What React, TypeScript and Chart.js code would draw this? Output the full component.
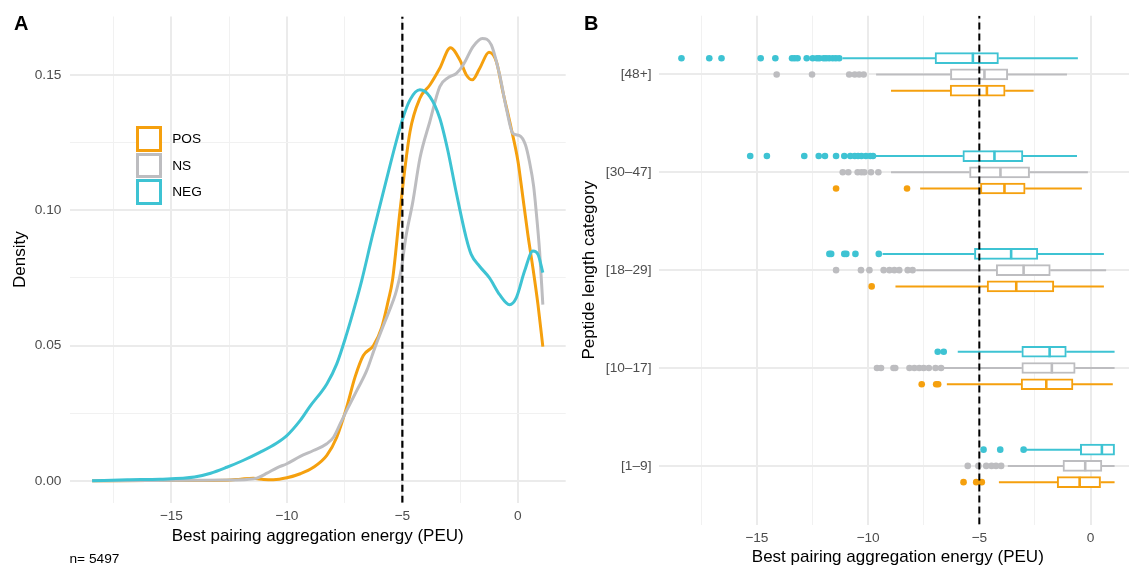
import React, { useEffect, useRef } from 'react';
import { Chart, registerables } from 'chart.js';

Chart.register(...registerables);

const FONT = '"Liberation Sans", Arial, Helvetica, sans-serif';
const ORANGE = '#F5A00E';
const GRAY = '#BDBDC0';
const CYAN = '#3EC3D3';
const GRID_MAJOR = '#EBEBEB';
const GRID_MINOR = '#F1F1F1';
const TICK_COLOR = '#4D4D4D';

// shared x axis
const X_MIN = -19.4;
const X_MAX = 2.07;
const X_TICKS = [-17.5, -15, -12.5, -10, -7.5, -5, -2.5, 0];
const X_MAJOR = [-15, -10, -5, 0];
const X_LABELS = ['−15', '−10', '−5', '0'];
const THRESHOLD = -5;

// panel A
const A_Y_MIN = -0.0081;
const A_Y_MAX = 0.1716;
const A_Y_TICKS = [0, 0.025, 0.05, 0.075, 0.1, 0.125, 0.15];
const A_Y_MAJOR = [0, 0.05, 0.1, 0.15];
const A_Y_LABELS = ['0.00', '0.05', '0.10', '0.15'];
const N_TOTAL = 5497;

const POS_DENSITY: [number, number][] = [
  [-18.43, 0], [-16, 0.0001], [-14, 0.0001], [-12.6, 0.0002], [-12.0, 0.0006],
  [-11.45, 0.0009], [-11.0, 0.0005], [-10.58, 0.0004], [-10.0, 0.0011], [-9.42, 0.0026],
  [-8.85, 0.005], [-8.27, 0.0094], [-7.84, 0.0161], [-7.41, 0.0272], [-7.05, 0.0383],
  [-6.69, 0.0463], [-6.25, 0.05], [-5.89, 0.0568], [-5.61, 0.0666], [-5.43, 0.074],
  [-5.1, 0.1], [-4.67, 0.129], [-4.24, 0.1414], [-3.81, 0.1463], [-3.38, 0.1525],
  [-2.92, 0.1601], [-2.51, 0.1555], [-2.23, 0.15], [-1.97, 0.1482], [-1.65, 0.1525],
  [-1.25, 0.1584], [-0.93, 0.1549], [-0.65, 0.1438], [-0.29, 0.1303], [0.0, 0.1183],
  [0.14, 0.1097], [0.43, 0.0911], [0.65, 0.0787], [0.87, 0.0651], [1.08, 0.0496],
];

const NS_DENSITY: [number, number][] = [
  [-18.43, 0], [-16, 0.0001], [-14, 0.0002], [-12.6, 0.0003], [-11.73, 0.0005],
  [-11.3, 0.001], [-10.86, 0.0028], [-10.43, 0.0048], [-10.0, 0.0063], [-9.42, 0.009],
  [-8.85, 0.0112], [-8.27, 0.0137], [-7.98, 0.0161], [-7.69, 0.0211], [-7.41, 0.026],
  [-6.97, 0.0334], [-6.54, 0.0408], [-6.18, 0.0494], [-5.82, 0.0574], [-5.4, 0.0665],
  [-5.25, 0.0705], [-5.05, 0.078], [-4.85, 0.09], [-4.55, 0.103], [-4.24, 0.1192],
  [-3.81, 0.1328], [-3.38, 0.1457], [-3.02, 0.149], [-2.66, 0.1506], [-2.37, 0.1537],
  [-1.94, 0.1605], [-1.54, 0.1635], [-1.15, 0.1611], [-0.79, 0.15], [-0.5, 0.1377],
  [-0.22, 0.1284], [0.07, 0.1276], [0.33, 0.1241], [0.5, 0.118], [0.68, 0.109],
  [0.79, 0.0998], [0.94, 0.0849], [1.08, 0.0651],
];

const NEG_DENSITY: [number, number][] = [
  [-18.43, 0], [-16.9, 0.0004], [-15.5, 0.0006], [-14.0, 0.0014], [-13.3, 0.0028],
  [-12.6, 0.005], [-11.9, 0.0075], [-11.15, 0.0106], [-10.45, 0.0139], [-10.0, 0.0167],
  [-9.42, 0.0223], [-9.0, 0.0275], [-8.27, 0.0358], [-7.84, 0.0432], [-7.41, 0.0543],
  [-7.05, 0.0648], [-6.76, 0.074], [-6.3, 0.0905], [-5.82, 0.1069], [-5.0, 0.1334],
  [-4.67, 0.1408], [-4.24, 0.1445], [-3.81, 0.142], [-3.38, 0.134], [-3.03, 0.122],
  [-2.69, 0.1075], [-2.24, 0.0899], [-2.02, 0.0837], [-1.66, 0.0793], [-1.23, 0.075],
  [-0.79, 0.0688], [-0.36, 0.0651], [-0.07, 0.0676], [0.29, 0.0775], [0.65, 0.0849],
  [0.87, 0.0837], [1.08, 0.0769],
];

// panel B (categories bottom to top)
const CATEGORIES = ['[1–9]', '[10–17]', '[18–29]', '[30–47]', '[48+]'];
const B_Y_MIN = -0.6;
const B_Y_MAX = 4.6;

// [lower whisker, Q1, median, Q3, upper whisker]
const NEG_BOX = [
  [-2.97, -0.46, 0.51, 1.08, 1.08],
  [-5.97, -3.09, -1.84, -1.09, 1.08],
  [-9.35, -5.22, -3.57, -2.37, 0.6],
  [-9.72, -5.74, -4.32, -3.04, -0.61],
  [-11.15, -6.99, -5.29, -4.14, -0.57],
];
const NEG_OUT = [
  [-4.81, -4.06, -3.01],
  [-6.87, -6.6],
  [-11.74, -11.66, -11.07, -10.98, -10.57, -9.52],
  [-15.3, -14.55, -12.87, -12.22, -11.94, -11.44, -11.07, -10.8, -10.6, -10.45, -10.3, -10.1, -9.9, -9.78],
  [-18.39, -17.14, -16.59, -14.83, -14.17, -13.42, -13.3, -13.17, -12.76, -12.49, -12.3, -12.19, -12.0, -11.89, -11.75, -11.59, -11.45, -11.3],
];

const NS_BOX = [
  [-3.72, -1.24, -0.24, 0.51, 1.08],
  [-6.64, -3.09, -1.74, -0.69, 1.08],
  [-7.84, -4.24, -3.01, -1.81, 0.7],
  [-8.97, -5.44, -4.05, -2.74, -0.12],
  [-9.64, -6.3, -4.77, -3.72, -1.06],
];
const NS_OUT = [
  [-5.52, -5.04, -4.69, -4.45, -4.25, -4.02],
  [-9.6, -9.42, -8.86, -8.78, -8.14, -7.92, -7.7, -7.5, -7.27, -6.97, -6.72],
  [-11.44, -10.32, -9.94, -9.3, -9.04, -8.82, -8.6, -8.22, -8.0],
  [-11.14, -10.89, -10.47, -10.3, -10.17, -9.87, -9.54],
  [-14.11, -12.52, -10.85, -10.6, -10.4, -10.2],
];

const POS_BOX = [
  [-4.12, -1.5, -0.49, 0.45, 1.08],
  [-6.46, -3.12, -1.99, -0.79, 1.0],
  [-8.77, -4.65, -3.34, -1.65, 0.6],
  [-7.66, -4.95, -3.87, -2.94, -0.39],
  [-8.97, -6.31, -4.66, -3.84, -2.56],
];
const POS_OUT = [
  [-5.71, -5.14, -4.89],
  [-7.59, -6.94, -6.85],
  [-9.84],
  [-11.44, -8.25],
  [],
];

const LEGEND = [
  { label: 'POS', color: ORANGE },
  { label: 'NS', color: GRAY },
  { label: 'NEG', color: CYAN },
];

// style constants
const DODGE = 0.166;
const BOX_HALF = 0.055;
const BOX_PX = 11;

const pts = (arr: [number, number][]) => arr.map(([x, y]) => ({ x, y }));

function gridFor(major: number[], majorW: number, minorW: number) {
  return {
    drawTicks: false,
    offset: false,
    color: (ctx: any) => (ctx.tick && major.includes(ctx.tick.value) ? GRID_MAJOR : GRID_MINOR),
    lineWidth: (ctx: any) => (ctx.tick && major.includes(ctx.tick.value) ? majorW : minorW),
  };
}

const tickFont = { family: FONT, size: 13.7 };
const titleFont = { family: FONT, size: 17 };

function xScale(height: number, tickPad: number, titlePadBottom: number) {
  return {
    type: 'linear' as const,
    min: X_MIN,
    max: X_MAX,
    offset: false,
    afterBuildTicks: (s: any) => { s.ticks = X_TICKS.map((v) => ({ value: v })); },
    afterFit: (s: any) => { s.height = height; },
    grid: gridFor(X_MAJOR, 2, 1),
    border: { display: false },
    ticks: {
      autoSkip: false,
      maxRotation: 0,
      padding: tickPad,
      color: TICK_COLOR,
      font: tickFont,
      callback: (v: any) => { const i = X_MAJOR.indexOf(Number(v)); return i >= 0 ? X_LABELS[i] : ''; },
    },
    title: {
      display: true,
      text: 'Best pairing aggregation energy (PEU)',
      color: '#000',
      font: titleFont,
      padding: { top: 0, bottom: titlePadBottom },
    },
  };
}

function boxDatasets(box: number[][], out: number[][], color: string, dy: number) {
  const whiskers: any[] = [];
  const medians: any[] = [];
  const boxes: any[] = [];
  const outliers: any[] = [];
  box.forEach(([lo, q1, med, q3, hi], i) => {
    const y = i + dy;
    whiskers.push({ x: lo, y }, { x: q1, y }, { x: q1, y: null }, { x: q3, y }, { x: hi, y }, { x: hi, y: null });
    medians.push({ x: med, y: y - BOX_HALF }, { x: med, y: y + BOX_HALF }, { x: med, y: null });
    boxes.push({ x: [q1, q3], y });
    out[i].forEach((v) => outliers.push({ x: v, y }));
  });
  return [
    { type: 'line', data: whiskers, borderColor: color, borderWidth: 2, pointRadius: 0, spanGaps: false, order: 4 },
    {
      type: 'bar', indexAxis: 'y', data: boxes, grouped: false, barThickness: BOX_PX,
      backgroundColor: '#FFFFFF', borderColor: color, borderWidth: 2, borderSkipped: false, order: 3,
    },
    { type: 'line', data: medians, borderColor: color, borderWidth: 2.6, pointRadius: 0, spanGaps: false, order: 2 },
    {
      type: 'scatter', data: outliers, pointRadius: 3.3, pointBorderWidth: 0,
      pointBackgroundColor: color, backgroundColor: color, borderColor: color, order: 1,
    },
  ];
}

export default function App() {
  const refA = useRef<HTMLCanvasElement>(null);
  const refB = useRef<HTMLCanvasElement>(null);

  useEffect(() => {
    if (!refA.current || !refB.current) return;

    const chartA = new Chart(refA.current, {
      type: 'line',
      data: {
        datasets: [
          {
            data: [{ x: THRESHOLD, y: A_Y_MIN }, { x: THRESHOLD, y: A_Y_MAX }],
            borderColor: '#000', borderWidth: 2.2, borderDash: [7, 4], pointRadius: 0, order: 0,
          },
          { label: 'NEG', data: pts(NEG_DENSITY), borderColor: CYAN, borderWidth: 3, pointRadius: 0, cubicInterpolationMode: 'monotone', order: 1 },
          { label: 'NS', data: pts(NS_DENSITY), borderColor: GRAY, borderWidth: 3, pointRadius: 0, cubicInterpolationMode: 'monotone', order: 2 },
          { label: 'POS', data: pts(POS_DENSITY), borderColor: ORANGE, borderWidth: 3, pointRadius: 0, cubicInterpolationMode: 'monotone', order: 3 },
        ] as any,
      },
      options: {
        animation: false,
        responsive: false,
        events: [],
        layout: { padding: { left: 0, right: 4.3, top: 14, bottom: 0 } },
        plugins: { legend: { display: false }, tooltip: { enabled: false } },
        scales: {
          x: xScale(66.3, 5.5, 22.8) as any,
          y: {
            type: 'linear',
            min: A_Y_MIN,
            max: A_Y_MAX,
            afterBuildTicks: (s: any) => { s.ticks = A_Y_TICKS.map((v) => ({ value: v })); },
            afterFit: (s: any) => { s.width = 69.7; },
            grid: gridFor(A_Y_MAJOR, 2, 1),
            border: { display: false },
            ticks: {
              autoSkip: false,
              padding: 8.3,
              color: TICK_COLOR,
              font: tickFont,
              callback: (v: any) => { const i = A_Y_MAJOR.indexOf(Number(v)); return i >= 0 ? A_Y_LABELS[i] : ''; },
            },
            title: { display: true, text: 'Density', color: '#000', font: titleFont, padding: { top: 10.3, bottom: 0 } },
          },
        },
      },
    });

    const datasetsB: any[] = [
      {
        type: 'line',
        data: [{ x: THRESHOLD, y: B_Y_MIN }, { x: THRESHOLD, y: B_Y_MAX }],
        borderColor: '#000', borderWidth: 2, borderDash: [7, 4], pointRadius: 0, order: 0,
      },
      ...boxDatasets(NEG_BOX, NEG_OUT, CYAN, DODGE),
      ...boxDatasets(NS_BOX, NS_OUT, GRAY, 0),
      ...boxDatasets(POS_BOX, POS_OUT, ORANGE, -DODGE),
    ];

    const chartB = new Chart(refB.current, {
      type: 'scatter',
      data: { datasets: datasetsB },
      options: {
        animation: false,
        responsive: false,
        events: [],
        layout: { padding: { left: 0, right: 8.4, top: 14.4, bottom: 0 } },
        plugins: { legend: { display: false }, tooltip: { enabled: false } },
        scales: {
          x: xScale(44.4, 5, 1.5) as any,
          y: {
            type: 'linear',
            min: B_Y_MIN,
            max: B_Y_MAX,
            offset: false,
            afterBuildTicks: (s: any) => { s.ticks = CATEGORIES.map((_, i) => ({ value: i })); },
            afterFit: (s: any) => { s.width = 84; },
            grid: { drawTicks: false, offset: false, color: GRID_MAJOR, lineWidth: 2 },
            border: { display: false },
            ticks: {
              autoSkip: false,
              padding: 7.5,
              color: TICK_COLOR,
              font: tickFont,
              callback: (v: any) => CATEGORIES[Number(v)] ?? '',
            },
            title: { display: true, text: 'Peptide length category', color: '#000', font: titleFont, padding: { top: 4.4, bottom: 0 } },
          },
        },
      },
    });

    return () => {
      chartA.destroy();
      chartB.destroy();
    };
  }, []);

  return (
    <div
      style={{
        position: 'fixed', left: 0, top: 0, width: 1129, height: 569,
        overflow: 'hidden', background: '#fff', fontFamily: FONT,
      }}
    >
      <canvas ref={refA} width={570} height={569} style={{ position: 'absolute', left: 0, top: 0 }} />
      <canvas ref={refB} width={570} height={569} style={{ position: 'absolute', left: 575, top: 0 }} />
      <div style={{ position: 'absolute', left: 14, top: 13, fontSize: 20, lineHeight: 1, fontWeight: 'bold', color: '#000' }}>A</div>
      <div style={{ position: 'absolute', left: 584, top: 13, fontSize: 20, lineHeight: 1, fontWeight: 'bold', color: '#000' }}>B</div>
      <div style={{ position: 'absolute', left: 69.5, top: 551.6, fontSize: 13.7, lineHeight: 1, color: '#000' }}>
        {'n= ' + N_TOTAL}
      </div>
      <div style={{ position: 'absolute', left: 135.7, top: 125.7 }}>
        {LEGEND.map((item) => (
          <div key={item.label} style={{ display: 'flex', alignItems: 'center', height: 26.5 }}>
            <div
              style={{
                width: 26, height: 25.5, boxSizing: 'border-box',
                border: `3px solid ${item.color}`, background: '#fff',
              }}
            />
            <div style={{ marginLeft: 10.5, fontSize: 13.7, lineHeight: 1, color: '#000' }}>{item.label}</div>
          </div>
        ))}
      </div>
    </div>
  );
}
